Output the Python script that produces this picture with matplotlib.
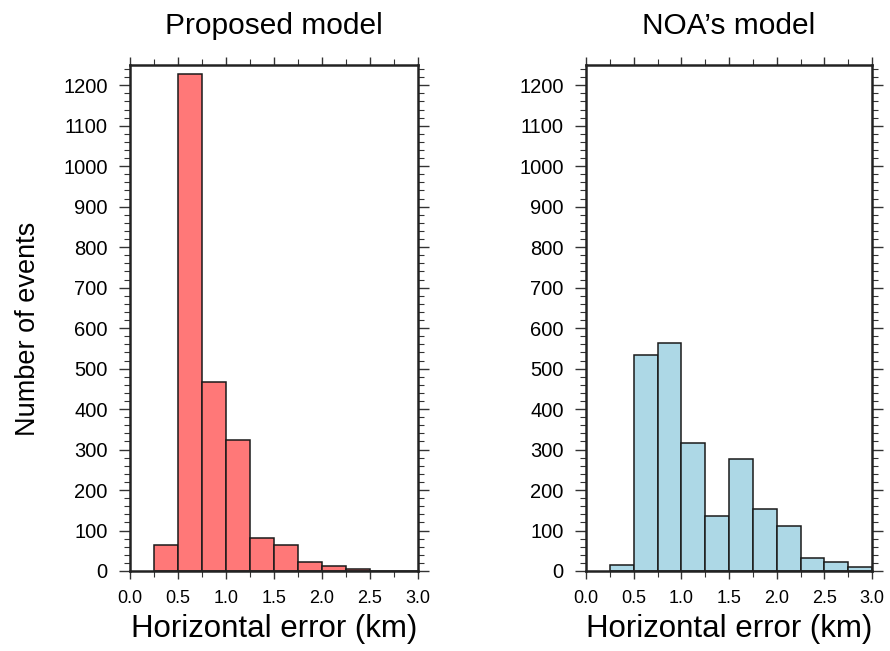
import matplotlib
matplotlib.use("Agg")
import matplotlib.pyplot as plt
from matplotlib.ticker import MultipleLocator

plt.rcParams['font.family'] = ['Liberation Sans', 'DejaVu Sans']

# Data: histogram bins (km) and counts
bin_lefts = [0.25, 0.50, 0.75, 1.00, 1.25, 1.50, 1.75, 2.00, 2.25, 2.50, 2.75]
bin_width = 0.25
proposed_counts = [63, 1228, 467, 323, 82, 63, 21, 13, 4, 1, 1]
noa_counts = [14, 533, 564, 315, 136, 277, 152, 110, 33, 21, 11]

titles = ["Proposed model", "NOA\u2019s model"]
xlabel = "Horizontal error (km)"
ylabel = "Number of events"
xticks = [0.0, 0.5, 1.0, 1.5, 2.0, 2.5, 3.0]
xticklabels = ["0.0", "0.5", "1.0", "1.5", "2.0", "2.5", "3.0"]
yticks = list(range(0, 1300, 100))

fig = plt.figure(figsize=(8.9, 6.51), dpi=100)
ax1 = fig.add_axes([130/890, 1-571/651, 288/890, 506/651])
ax2 = fig.add_axes([586/890, 1-571/651, 286/890, 506/651])

for ax, counts, color, title in [(ax1, proposed_counts, '#FF7878', titles[0]),
                                  (ax2, noa_counts, '#ADD8E6', titles[1])]:
    ax.bar(bin_lefts, counts, width=bin_width, align='edge', color=color,
           edgecolor='#1a1a1a', linewidth=1.1, zorder=2)
    ax.set_xlim(0, 3.0)
    ax.set_ylim(0, 1250)
    ax.set_xticks(xticks)
    ax.set_xticklabels(xticklabels)
    ax.set_yticks(yticks)
    ax.xaxis.set_minor_locator(MultipleLocator(0.25))
    ax.yaxis.set_minor_locator(MultipleLocator(20))
    ax.tick_params(axis='both', which='both', direction='out', top=True, right=True,
                   color='#333333')
    ax.tick_params(axis='y', which='major', length=8, width=1.0, labelsize=14.5, pad=8)
    ax.tick_params(axis='y', which='minor', length=4, width=0.8)
    ax.tick_params(axis='x', which='major', length=6, width=1.0, labelsize=13, pad=8)
    ax.tick_params(axis='x', which='minor', length=4, width=0.8)
    for sp in ax.spines.values():
        sp.set_linewidth(1.8)
        sp.set_color('#222222')
    ax.set_xlabel(xlabel, fontsize=22.5, labelpad=5)
    ax.set_title(title, fontsize=21.5, pad=22)

ax1.set_ylabel(ylabel, fontsize=19.5)
ax1.yaxis.set_label_coords(-0.31, 0.478)

fig.savefig("out.png", dpi=100, facecolor='white')
